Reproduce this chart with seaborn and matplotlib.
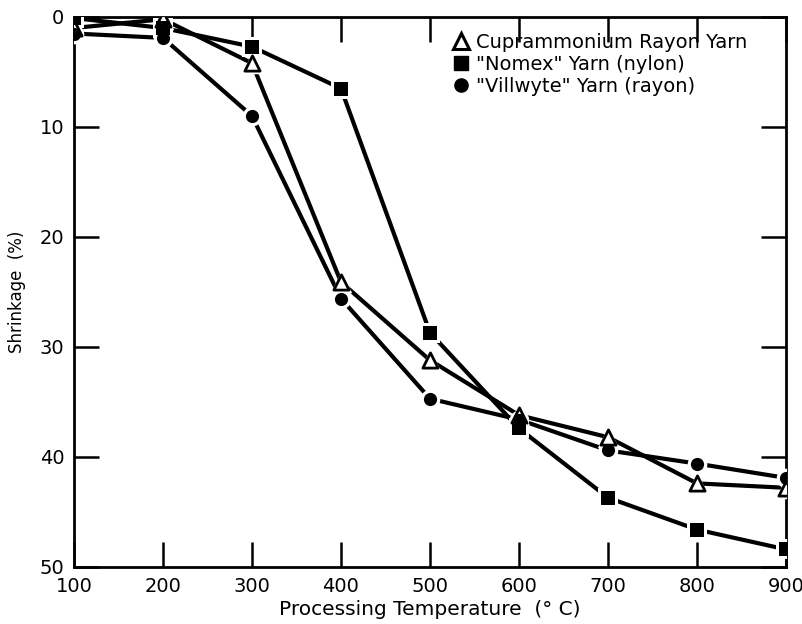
import matplotlib
matplotlib.use("Agg")
import matplotlib.pyplot as plt
import seaborn as sns
import pandas as pd
from matplotlib.lines import Line2D

temps = [100, 200, 300, 400, 500, 600, 700, 800, 900]
cupra = [1.0, 0.2, 4.2, 24.1, 31.2, 36.2, 38.2, 42.4, 42.8]
nomex = [0.1, 1.0, 2.7, 6.5, 28.7, 37.4, 43.7, 46.6, 48.4]
villwyte = [1.5, 1.9, 9.0, 25.6, 34.7, 36.6, 39.4, 40.6, 41.9]
names = ["Cuprammonium Rayon Yarn", '"Nomex" Yarn (nylon)', '"Villwyte" Yarn (rayon)']
xticks = [100, 200, 300, 400, 500, 600, 700, 800, 900]
yticks = [0, 10, 20, 30, 40, 50]

sns.set_theme(style="white")
plt.rcParams['font.family'] = ['DejaVu Sans']
plt.rcParams['text.color'] = 'black'

rows = []
for n, vals in zip(names, [cupra, nomex, villwyte]):
    for t, v in zip(temps, vals):
        rows.append({"temp": t, "shrink": v, "series": n})
df = pd.DataFrame(rows)

fig = plt.figure(figsize=(8.03, 6.24), dpi=100)
ax = fig.add_axes([74/803, 1-567/624, (786-74)/803, (567-17)/624])

markers = {names[0]: "^", names[1]: "s", names[2]: "o"}
for n in names:
    sub = df[df.series == n]
    sns.lineplot(data=sub, x="temp", y="shrink", ax=ax, color="black", lw=3.0,
                 legend=False, zorder=2)
    sns.scatterplot(data=sub, x="temp", y="shrink", ax=ax, marker=markers[n],
                    s=240 if n == names[0] else 200, color="white", edgecolor="white",
                    linewidth=0, legend=False, zorder=3)
    if n == names[0]:
        sns.scatterplot(data=sub, x="temp", y="shrink", ax=ax, marker="^",
                        s=120, facecolor="white", edgecolor="black", linewidth=2.0,
                        legend=False, zorder=4)
    else:
        sns.scatterplot(data=sub, x="temp", y="shrink", ax=ax, marker=markers[n],
                        s=90, color="black", edgecolor="black", linewidth=0,
                        legend=False, zorder=4)

ax.set_xlim(100, 900)
ax.set_ylim(50, 0)
ax.set_xticks(xticks)
ax.set_yticks(yticks)
ax.set_xticklabels([str(t) for t in xticks], fontsize=14)
ax.set_yticklabels([str(t) for t in yticks], fontsize=14)
ax.tick_params(axis="both", direction="in", length=18, width=1.8, color="black",
               top=True, right=True, bottom=True, left=True, labelcolor="black")
ax.tick_params(axis="x", pad=7)
ax.tick_params(axis="y", pad=7)
for s in ax.spines.values():
    s.set_color("black")
    s.set_linewidth(2.0)
ax.set_xlabel("Processing Temperature  (° C)", fontsize=14.5, color="black", labelpad=3)
ax.set_ylabel("Shrinkage  (%)", fontsize=12, color="black", labelpad=10)

handles = [
    Line2D([], [], ls="none", marker="^", ms=12, mfc="white", mec="black", mew=2.2),
    Line2D([], [], ls="none", marker="s", ms=9.5, mfc="black", mec="black"),
    Line2D([], [], ls="none", marker="o", ms=9.5, mfc="black", mec="black"),
]
leg = ax.legend(handles, names, loc="upper left", bbox_to_anchor=(0.52, 0.985),
                frameon=False, fontsize=14, handlelength=0.9, handletextpad=0.35,
                labelspacing=0.15, borderaxespad=0)
for t in leg.get_texts():
    t.set_color("black")

fig.savefig("out.png", dpi=100, facecolor="white")
